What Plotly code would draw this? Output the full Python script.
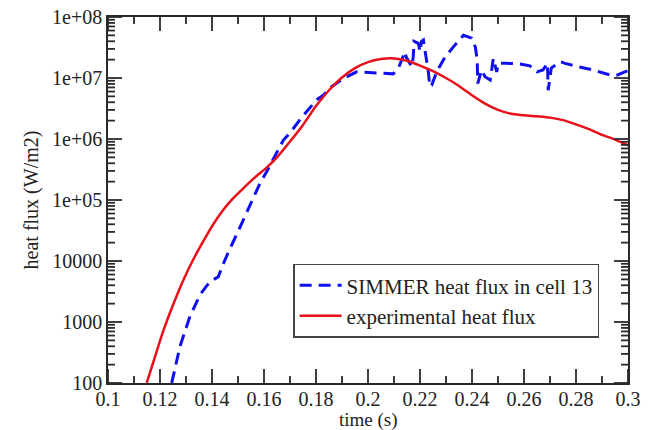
import math
import plotly.graph_objects as go

# SIMMER simulation: heat flux in cell 13 (W/m2) vs time (s)
simmer_time = [0.1245, 0.1277, 0.1315, 0.1354, 0.1392, 0.1424, 0.1444, 0.1463, 0.1508, 0.1548,
               0.1585, 0.1610, 0.1636, 0.1674, 0.1700, 0.1750, 0.1803, 0.1828, 0.1860, 0.1905,
               0.1956, 0.2008, 0.2050, 0.2097, 0.2117, 0.2130, 0.2142, 0.2147, 0.2168, 0.2174,
               0.2177, 0.2194, 0.2200, 0.2206, 0.2213, 0.2220, 0.2226, 0.2232, 0.2238, 0.2245,
               0.2264, 0.2277, 0.2296, 0.2330, 0.2367, 0.2399, 0.2413, 0.2420, 0.2422, 0.2437,
               0.2450, 0.2470, 0.2482, 0.2495, 0.2501, 0.2533, 0.2585, 0.2623, 0.2650, 0.2673,
               0.2690, 0.2693, 0.2705, 0.2738, 0.2758, 0.2803, 0.2867, 0.2931, 0.2960, 0.2988,
               0.3000]
simmer_flux = [100, 400, 1230, 2800, 4600, 5500, 9100, 1.4e4, 3.6e4, 8.3e4,
               1.9e5, 2.9e5, 4.8e5, 9.5e5, 1.26e6, 2.4e6, 4.4e6, 5.2e6, 7.2e6, 9.8e6,
               1.26e7, 1.23e7, 1.2e7, 1.17e7, 1.45e7, 2.0e7, 2.7e7, 2.2e7, 1.55e7, 2.2e7,
               4.0e7, 3.7e7, 2.7e7, 4.0e7, 4.2e7, 2.7e7, 1.86e7, 1.26e7, 7.2e6, 7.6e6,
               1.26e7, 1.6e7, 2.2e7, 3.3e7, 5.0e7, 4.5e7, 3.2e7, 2.0e7, 8.1e6, 1.35e7,
               1.05e7, 9.3e6, 2.1e7, 1.26e7, 1.74e7, 1.74e7, 1.7e7, 1.58e7, 1.26e7, 1.35e7,
               1.74e7, 6.3e6, 1.45e7, 1.86e7, 1.74e7, 1.55e7, 1.35e7, 1.12e7, 1.12e7, 1.26e7,
               1.32e7]

# Measured heat flux (W/m2) vs time (s)
exp_time = [0.1149, 0.1180, 0.1213, 0.1250, 0.1290, 0.1330, 0.1370, 0.1405, 0.1440, 0.1480,
            0.1525, 0.1570, 0.1610, 0.1650, 0.1700, 0.1750, 0.1800, 0.1850, 0.1900, 0.1950,
            0.2000, 0.2050, 0.2100, 0.2150, 0.2200, 0.2250, 0.2300, 0.2350, 0.2400, 0.2450,
            0.2500, 0.2550, 0.2600, 0.2650, 0.2700, 0.2750, 0.2800, 0.2850, 0.2900, 0.2950,
            0.3000]
exp_flux = [100, 263, 720, 1900, 4900, 1.1e4, 2.24e4, 4.0e4, 6.6e4, 1.05e5,
            1.62e5, 2.45e5, 3.4e5, 5.0e5, 9.1e5, 1.7e6, 3.47e6, 6.3e6, 1.02e7, 1.45e7,
            1.82e7, 2.04e7, 2.09e7, 1.92e7, 1.6e7, 1.3e7, 1.0e7, 7.4e6, 5.2e6, 3.8e6,
            3.0e6, 2.6e6, 2.45e6, 2.35e6, 2.24e6, 2.04e6, 1.74e6, 1.45e6, 1.17e6, 9.8e5,
            7.9e5]

x_ticks = [0.1, 0.12, 0.14, 0.16, 0.18, 0.2, 0.22, 0.24, 0.26, 0.28, 0.3]
x_tick_text = ["0.1", "0.12", "0.14", "0.16", "0.18", "0.2", "0.22", "0.24", "0.26", "0.28", "0.3"]
x_minor_ticks = [0.11, 0.13, 0.15, 0.17, 0.19, 0.21, 0.23, 0.25, 0.27, 0.29]
y_ticks = [1e2, 1e3, 1e4, 1e5, 1e6, 1e7, 1e8]
y_tick_text = ["100", "1000", "10000", "1e+05", "1e+06", "1e+07", "1e+08"]
y_minor_ticks = [m * d for d in [1e2, 1e3, 1e4, 1e5, 1e6, 1e7] for m in range(2, 10)]

X_RANGE = [0.1, 0.3]
Y_RANGE = [2, 8]  # log10 of 100 .. 1e8

WIDTH, HEIGHT = 654, 430
MARGIN = dict(l=108, r=26, t=17, b=47)
PLOT_W = WIDTH - MARGIN["l"] - MARGIN["r"]
PLOT_H = HEIGHT - MARGIN["t"] - MARGIN["b"]

FONT = "Liberation Serif, Times New Roman, serif"
AXIS_COLOR = "#2a2a2a"
TEXT_COLOR = "#222222"
MAJOR_LEN, MINOR_LEN = 14, 7  # tick lengths in px

fig = go.Figure()
fig.add_trace(go.Scatter(
    x=simmer_time, y=simmer_flux, mode="lines",
    name="SIMMER heat flux in cell 13",
    line=dict(color="#1010ee", width=3, dash="12px,7px"),
))
fig.add_trace(go.Scatter(
    x=exp_time, y=exp_flux, mode="lines",
    name="experimental heat flux",
    line=dict(color="#e8101a", width=2.5, shape="spline", smoothing=0.6),
))

# Inward tick marks on all four sides of the frame, drawn as one segment path
# on a hidden 0..1 overlay frame (fractions of the plot area).
tick_x, tick_y = [], []
for vals, length in ((x_ticks, MAJOR_LEN), (x_minor_ticks, MINOR_LEN)):
    dy = length / PLOT_H
    for v in vals:
        xp = (v - X_RANGE[0]) / (X_RANGE[1] - X_RANGE[0])
        tick_x += [xp, xp, None, xp, xp, None]
        tick_y += [0, dy, None, 1, 1 - dy, None]
for vals, length in ((y_ticks, MAJOR_LEN), (y_minor_ticks, MINOR_LEN)):
    dx = length / PLOT_W
    for v in vals:
        yp = (math.log10(v) - Y_RANGE[0]) / (Y_RANGE[1] - Y_RANGE[0])
        tick_x += [0, dx, None, 1, 1 - dx, None]
        tick_y += [yp, yp, None, yp, yp, None]

fig.add_trace(go.Scatter(
    x=tick_x, y=tick_y, xaxis="x2", yaxis="y2", mode="lines",
    line=dict(color=AXIS_COLOR, width=1.8), connectgaps=False,
    showlegend=False, hoverinfo="skip",
))

fig.update_layout(
    width=WIDTH, height=HEIGHT,
    margin=MARGIN,
    paper_bgcolor="white", plot_bgcolor="white",
    font=dict(family=FONT, size=20, color=TEXT_COLOR),
    showlegend=True,
    legend=dict(
        x=0.356, y=0.326, xanchor="left", yanchor="top",
        bgcolor="white", bordercolor="#444444", borderwidth=1.5,
        font=dict(family=FONT, size=21, color=TEXT_COLOR),
        itemwidth=42, tracegroupgap=0,
    ),
    xaxis2=dict(overlaying="x", anchor="y2", range=[0, 1], visible=False,
                showgrid=False, zeroline=False),
    yaxis2=dict(overlaying="y", anchor="x2", range=[0, 1], visible=False,
                showgrid=False, zeroline=False),
    annotations=[dict(
        text="time (s)", xref="paper", yref="paper", x=0.5, y=0,
        xanchor="center", yanchor="middle", yshift=-37, showarrow=False,
        font=dict(family=FONT, size=19, color=TEXT_COLOR),
    )],
)

fig.update_xaxes(
    selector=dict(overlaying=None),
    range=X_RANGE, tickmode="array", tickvals=x_ticks, ticktext=x_tick_text,
    showgrid=False, zeroline=False, automargin=False,
    showline=True, linecolor=AXIS_COLOR, linewidth=1.5, mirror=True,
    ticks="", ticklabelstandoff=-3,
    tickfont=dict(family=FONT, size=20, color=TEXT_COLOR),
)
fig.update_layout(yaxis=dict(
    type="log", range=Y_RANGE, tickmode="array", tickvals=y_ticks, ticktext=y_tick_text,
    showgrid=False, zeroline=False, automargin=False,
    showline=True, linecolor=AXIS_COLOR, linewidth=1.5, mirror=True,
    ticks="",
    tickfont=dict(family=FONT, size=20, color=TEXT_COLOR),
    title=dict(text="heat flux (W/m2)", standoff=8,
               font=dict(family=FONT, size=20, color=TEXT_COLOR)),
))

fig.write_html("out.html")
